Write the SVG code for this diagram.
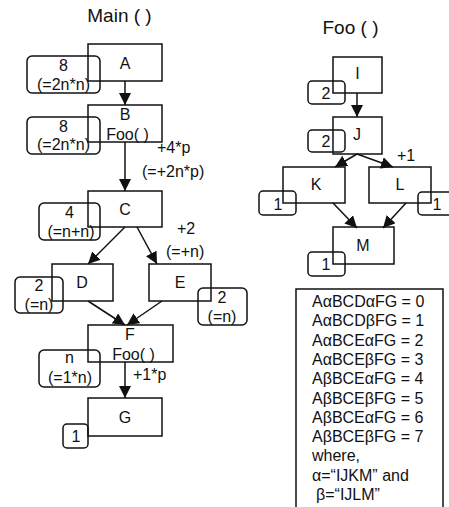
<svg xmlns="http://www.w3.org/2000/svg" width="449" height="507" viewBox="0 0 449 507">
<style>
text{font-family:"Liberation Sans",Arial,sans-serif;font-size:16px;fill:#111}
.t{font-size:19px;text-anchor:middle}
.c{text-anchor:middle}
.box{fill:none;stroke:#111;stroke-width:1.5}
.ann{fill:none;stroke:#111;stroke-width:1.5}
.edge{fill:none;stroke:#111;stroke-width:1.5;marker-end:url(#ah)}
</style>
<defs>
<marker id="ah" markerUnits="userSpaceOnUse" markerWidth="12" markerHeight="12" viewBox="0 0 12 12" refX="12" refY="6" orient="auto">
<path d="M0,0 L12,6 L0,12 Z" fill="#111"/>
</marker>
</defs>
<text class="t" x="119.5" y="22">Main ( )</text>
<text class="t" x="350.5" y="34">Foo ( )</text>

<g id="connectors">
<line class="edge" x1="125" y1="81" x2="125" y2="105"/>
<line class="edge" x1="125" y1="142" x2="125" y2="191"/>
<line class="edge" x1="125" y1="227" x2="88" y2="264"/>
<line class="edge" x1="137" y1="227" x2="157" y2="264"/>
<line class="edge" x1="88" y1="301" x2="125" y2="325"/>
<line class="edge" x1="162" y1="301" x2="127" y2="325"/>
<line class="edge" x1="125" y1="362" x2="125" y2="398"/>
<line class="edge" x1="357" y1="93" x2="357" y2="117"/>
<line class="edge" x1="357" y1="154" x2="335" y2="167"/>
<line class="edge" x1="357" y1="154" x2="393" y2="167"/>
<line class="edge" x1="333" y1="203" x2="357" y2="228"/>
<line class="edge" x1="406" y1="203" x2="383" y2="228"/>
<text x="157" y="153">+4*p</text>
<text x="142" y="177">(=+2n*p)</text>
<text x="177" y="234">+2</text>
<text x="166" y="257">(=+n)</text>
<text x="133" y="380">+1*p</text>
<text x="397" y="161">+1</text>
</g>

<g id="A">
<rect class="box" x="88" y="44" width="74" height="37"/>
<text class="c" x="125" y="69">A</text>
<rect class="ann" x="27" y="56" width="73" height="37" rx="5"/>
<text class="c" x="63.5" y="71">8</text>
<text class="c" x="63.5" y="90">(=2n*n)</text>
</g>
<g id="B">
<rect class="box" x="88" y="105" width="74" height="37"/>
<text class="c" x="125" y="120">B</text>
<text class="c" x="127.5" y="140">Foo( )</text>
<rect class="ann" x="27" y="117" width="73" height="37" rx="5"/>
<text class="c" x="63.5" y="132">8</text>
<text class="c" x="63.5" y="150">(=2n*n)</text>
</g>
<g id="C">
<rect class="box" x="88" y="191" width="74" height="36"/>
<text class="c" x="125" y="215">C</text>
<rect class="ann" x="39" y="203" width="61" height="37" rx="5"/>
<text class="c" x="69.5" y="218">4</text>
<text class="c" x="71" y="237">(=n+n)</text>
</g>
<g id="D">
<rect class="box" x="52" y="264" width="61" height="37"/>
<text class="c" x="82" y="288">D</text>
<rect class="ann" x="15" y="277" width="48" height="36" rx="5"/>
<text class="c" x="39" y="291">2</text>
<text class="c" x="39" y="310">(=n)</text>
</g>
<g id="E">
<rect class="box" x="149" y="264" width="62" height="37"/>
<text class="c" x="180" y="288">E</text>
<rect class="ann" x="198" y="288" width="49" height="37" rx="5"/>
<text class="c" x="222" y="303">2</text>
<text class="c" x="222" y="322">(=n)</text>
</g>
<g id="F">
<rect class="box" x="88" y="325" width="85" height="37"/>
<text class="c" x="130" y="340">F</text>
<text class="c" x="133.5" y="360">Foo( )</text>
<rect class="ann" x="39" y="350" width="61" height="37" rx="5"/>
<text class="c" x="69.5" y="363">n</text>
<text class="c" x="70" y="383">(=1*n)</text>
</g>
<g id="G">
<rect class="box" x="88" y="398" width="74" height="38"/>
<text class="c" x="125" y="423">G</text>
<rect class="ann" x="63" y="424" width="25" height="24" rx="4"/>
<text class="c" x="76" y="442">1</text>
</g>

<g id="I">
<rect class="box" x="333" y="57" width="49" height="36"/>
<text class="c" x="357.5" y="79">I</text>
<rect class="ann" x="308" y="81" width="37" height="23" rx="4"/>
<text class="c" x="326" y="99">2</text>
</g>
<g id="J">
<rect class="box" x="333" y="117" width="49" height="37"/>
<text class="c" x="357" y="140">J</text>
<rect class="ann" x="308" y="130" width="37" height="22" rx="4"/>
<text class="c" x="326" y="147">2</text>
</g>
<g id="K">
<rect class="box" x="283" y="167" width="62" height="36"/>
<text class="c" x="316" y="190">K</text>
<rect class="ann" x="259" y="191" width="37" height="24" rx="4"/>
<text class="c" x="278" y="210">1</text>
</g>
<g id="L">
<rect class="box" x="369" y="167" width="62" height="36"/>
<text class="c" x="400" y="190">L</text>
<rect class="ann" x="418" y="192" width="37" height="23" rx="4"/>
<text class="c" x="437" y="210">1</text>
</g>
<g id="M">
<rect class="box" x="333" y="227" width="61" height="37"/>
<text class="c" x="363" y="251">M</text>
<rect class="ann" x="308" y="252" width="37" height="24" rx="4"/>
<text class="c" x="326" y="270">1</text>
</g>

<g id="legend">
<rect class="box" x="296" y="289" width="147" height="230"/>
<text x="312" y="307">AαBCDαFG = 0</text>
<text x="312" y="326.3">AαBCDβFG = 1</text>
<text x="312" y="345.6">AαBCEαFG = 2</text>
<text x="312" y="364.9">AαBCEβFG = 3</text>
<text x="312" y="384.2">AβBCEαFG = 4</text>
<text x="312" y="403.5">AβBCEβFG = 5</text>
<text x="312" y="422.8">AβBCEαFG = 6</text>
<text x="312" y="442.1">AβBCEβFG = 7</text>
<text x="312" y="461.4">where,</text>
<text x="312" y="480.7">α=“IJKM” and</text>
<text x="316" y="500">β=“IJLM”</text>
</g>
</svg>
